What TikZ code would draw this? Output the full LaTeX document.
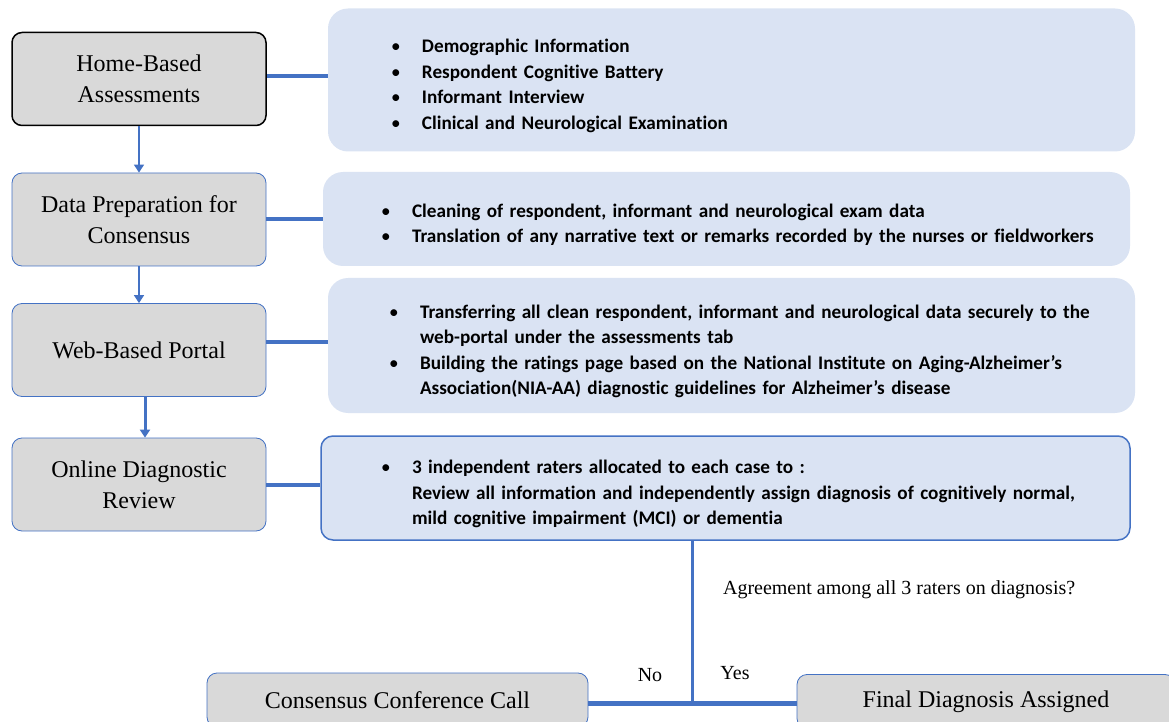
\documentclass[tikz,border=0pt]{standalone}
\usepackage{fontspec}
\setmainfont{Liberation Serif}
\newfontfamily\calibri[Ligatures=NoCommon]{Carlito}
\usetikzlibrary{positioning, arrows.meta}

\definecolor{stagegrey}{HTML}{D9D9D9}
\definecolor{linkblue}{HTML}{4472C4}
\definecolor{infoblue}{HTML}{DAE3F3}

% bullet line with hanging indent
\newcommand{\bitem}[1]{\par\hangindent=15.5pt\hangafter=1\noindent\makebox[15.5pt][l]{\mdseries\textbullet}#1}

\begin{document}
\begin{tikzpicture}[
    x=0.5pt, y=-0.5pt,
    stage/.style={rectangle, draw=linkblue, rounded corners=5pt, fill=stagegrey, minimum width=127pt, minimum height=46.5pt, align=center, inner sep=2pt, font=\fontsize{12}{15.5}\selectfont},
    info/.style={rectangle, fill=infoblue, rounded corners=10pt, inner xsep=0pt, inner ysep=2pt, align=left, font=\calibri\bfseries\fontsize{9.6}{12.75}\selectfont},
    arrow/.style={-{Triangle[width=5pt, length=4pt]}, linkblue, line width=0.75pt},
    link/.style={linkblue, line width=2pt},
    label/.style={font=\fontsize{10}{12}\selectfont}
]
\useasboundingbox (0,0) rectangle (1169,722);

% Stages
\node[stage, draw=black, line width=0.75pt] (home) at (139,79) {Home-Based\\Assessments};
\node[stage] (prep) at (139,219.5) {Data Preparation for\\Consensus};
\node[stage] (portal) at (139,350) {Web-Based Portal};
\node[stage] (review) at (139,484.5) {Online Diagnostic\\Review};

% Details of each stage
\node[info, text width=403.5pt, minimum height=71.5pt] (home-info) at (731.5,80) {\leftskip=31.5pt
    \bitem{Demographic Information}
    \bitem{Respondent Cognitive Battery}
    \bitem{Informant Interview}
    \bitem{Clinical and Neurological Examination}\par};
\node[info, text width=403.5pt, minimum height=47pt] (prep-info) at (726.5,219) {\leftskip=29pt
    \bitem{Cleaning of respondent, informant and neurological exam data}
    \bitem{Translation of any narrative text or remarks recorded by the nurses or fieldworkers}\par};
\node[info, text width=403.5pt, minimum height=67.5pt] (portal-info) at (731.5,345.5) {\leftskip=30.5pt
    \bitem{Transferring all clean respondent, informant and neurological data securely to the\newline
        web-portal under the assessments tab}
    \bitem{Building the ratings page based on the National Institute on Aging-Alzheimer’s\newline
        Association(NIA-AA) diagnostic guidelines for Alzheimer’s disease}\par};
\node[info, draw=linkblue, line width=0.75pt, rounded corners=6pt, text width=404.5pt, minimum height=52pt] (review-info) at (725.5,488) {\leftskip=30pt
    \bitem{3 independent raters allocated to each case to :\newline
        Review all information and independently assign diagnosis of cognitively normal,\newline
        mild cognitive impairment (MCI) or dementia}\par};

% Flow between stages
\draw[arrow] (home) -- (prep);
\draw[arrow] (prep) -- (portal);
\draw[arrow, line width=1.5pt] ([xshift=3pt]portal.south) -- ([xshift=3pt]review.north);

% Stage to details
\foreach \s/\dy in {home/1.5, prep/0, portal/4, review/0} {
    \draw[link] ([yshift=\dy pt]\s.east) -- ([yshift=\dy pt]\s.east -| \s-info.west);
}

% Outcome boxes
\node[stage, minimum width=190.5pt, minimum height=27pt] (conf) at (397.5,700) {Consensus Conference Call};
\node[stage, minimum width=189pt, minimum height=27pt] (final) at (986,701.5) {Final Diagnosis Assigned};

% Decision split
\coordinate (split) at (692,703);
\draw[link, line width=1.5pt] (review-info.south -| split) -- (split);
\draw[link, line width=2.5pt] (conf.east |- split) -- (split) -- (final.west |- split);

% Labels
\node[label, anchor=west] (question) at (716,590) {Agreement among all 3 raters on diagnosis?};
\node[label] (no) at (650,675) {No};
\node[label] (yes) at (735,673) {Yes};

\end{tikzpicture}
\end{document}
